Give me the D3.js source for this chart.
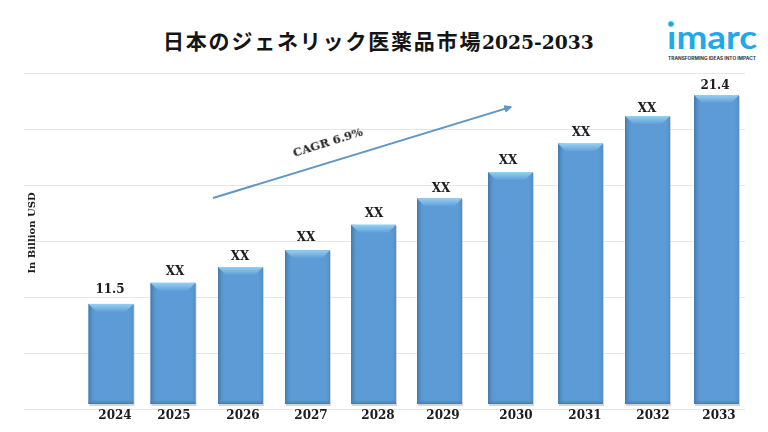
<!DOCTYPE html>
<html lang="ja">
<head>
<meta charset="UTF-8">
<title>日本のジェネリック医薬品市場</title>
<script src="https://d3js.org/d3.v7.min.js"></script>
<style>
  html, body { margin: 0; padding: 0; background: #fff; }
  svg { display: block; }
  .serif { font-family: "DejaVu Serif", serif; font-weight: 700; fill: #1a1a1a; }
</style>
</head>
<body>
<div id="vis"></div>
<script>
var years = ["2024","2025","2026","2027","2028","2029","2030","2031","2032","2033"];
var values = [11.5,12.5,13.25,14.05,15.25,16.5,17.75,19.1,20.4,21.4];
var valueLabels = ["11.5","XX","XX","XX","XX","XX","XX","XX","XX","21.4"];
var gridSteps = [0,1,2,3,4,5,6];

var width = 768, height = 432;

var svg = d3.select("#vis").append("svg")
    .attr("width", width)
    .attr("height", height);

var defs = svg.append("defs");

function gradient(id, x2, y2, stops) {
    var g = defs.append("linearGradient").attr("id", id)
        .attr("x1", 0).attr("y1", 0).attr("x2", x2).attr("y2", y2);
    stops.forEach(function(s) {
        g.append("stop").attr("offset", s[0]).attr("stop-color", s[1]).attr("stop-opacity", s[2]);
    });
}
gradient("capFill", 0, 1, [[0,"#93d0f3",1],[1,"#5f9fd8",1]]);
gradient("leftEdge", 1, 0, [[0,"#3f6f9c",0.85],[1,"#5b9bd5",0]]);
gradient("rightEdge", 1, 0, [[0,"#5b9bd5",0],[1,"#4f86b8",0.7]]);
gradient("bottomEdge", 0, 1, [[0,"#5b9bd5",0],[1,"#43719c",0.85]]);

defs.append("filter").attr("id", "soft")
    .append("feGaussianBlur").attr("stdDeviation", 0.35);
defs.append("filter").attr("id", "softText")
    .append("feGaussianBlur").attr("stdDeviation", 0.2);

// bars are not evenly spaced in the original, so the x scales are ordinal
var x = d3.scaleOrdinal().domain(years)
    .range([111,173,240.5,307.5,373.5,439.5,510.5,580.5,647.5,716.5]);
var xLabel = d3.scaleOrdinal().domain(years)
    .range([115,174,243,311,378,443,516,585,653,719]);
var xValue = d3.scaleOrdinal().domain(years)
    .range([110,175,240,306,374,441,508,581,647,715]);
// value labels float at slightly different heights above their bars
var labelGap = d3.scaleOrdinal().domain(years)
    .range([11,8,7,9,8,6,8,8,4,6]);
var barW = 45;

// the picture's bars don't start from zero
var y = d3.scaleLinear().domain([6.76,21.4]).range([404,95]);
var grid = d3.scaleLinear().domain([0,6]).range([409,73]);

var gridAxis = d3.axisLeft(grid).tickValues(gridSteps).tickSize(-721).tickFormat("");
var gridG = svg.append("g")
    .attr("transform", "translate(24,0)")
    .call(gridAxis);
gridG.select(".domain").remove();
gridG.selectAll("line").attr("stroke", "#e6e6e6").attr("stroke-width", 1);

var title = svg.append("text")
    .attr("x", 163).attr("y", 49)
    .attr("fill", "#151515");
title.append("tspan")
    .attr("font-family", '"Noto Sans CJK JP"')
    .attr("font-weight", 700)
    .attr("font-size", 21)
    .attr("letter-spacing", 1.8)
    .text("日本のジェネリック医薬品市場");
title.append("tspan")
    .attr("x", 482)
    .attr("font-family", '"DejaVu Serif"')
    .attr("font-weight", 700)
    .attr("font-size", 18.7)
    .text("2025-2033");

var bar = svg.selectAll(".bar").data(years).enter().append("g")
    .attr("class", "bar")
    .attr("filter", "url(#soft)")
    .attr("transform", function(d) { return "translate(" + (x(d) - barW / 2) + ",0)"; });

function barTop(i) { return y(values[i]); }

bar.append("rect")
    .attr("x", 1).attr("width", barW).attr("y", function(d, i) { return barTop(i) + 1; })
    .attr("height", function(d, i) { return y.range()[0] - barTop(i) + 1; })
    .attr("fill", "#b9b9b9").attr("opacity", 0.6);
bar.append("rect")
    .attr("width", barW).attr("y", function(d, i) { return barTop(i); })
    .attr("height", function(d, i) { return y.range()[0] - barTop(i); })
    .attr("fill", "#5b9bd5");
bar.append("rect")
    .attr("width", 7).attr("y", function(d, i) { return barTop(i); })
    .attr("height", function(d, i) { return y.range()[0] - barTop(i); })
    .attr("fill", "url(#leftEdge)");
bar.append("rect")
    .attr("x", barW - 5).attr("width", 5).attr("y", function(d, i) { return barTop(i); })
    .attr("height", function(d, i) { return y.range()[0] - barTop(i); })
    .attr("fill", "url(#rightEdge)");
bar.append("rect")
    .attr("width", barW).attr("y", y.range()[0] - 5).attr("height", 5)
    .attr("fill", "url(#bottomEdge)");
bar.append("path")
    .attr("d", function(d, i) {
        var t = barTop(i);
        return "M0," + t + "H" + barW + "L" + (barW - 8) + "," + (t + 8) + "H8Z";
    })
    .attr("fill", "url(#capFill)");

svg.selectAll(".year").data(years).enter().append("text")
    .attr("class", "year serif")
    .attr("filter", "url(#softText)")
    .attr("x", function(d) { return xLabel(d); })
    .attr("y", 419)
    .attr("text-anchor", "middle")
    .attr("font-size", 12)
    .text(function(d) { return d; });

svg.selectAll(".val").data(years).enter().append("text")
    .attr("class", "val serif")
    .attr("filter", "url(#softText)")
    .attr("x", function(d) { return xValue(d); })
    .attr("y", function(d, i) { return barTop(i) - labelGap(d); })
    .attr("text-anchor", "middle")
    .attr("font-size", 12)
    .text(function(d, i) { return valueLabels[i]; });

svg.append("text")
    .attr("class", "serif")
    .attr("filter", "url(#softText)")
    .attr("transform", "translate(35,233) rotate(-90)")
    .attr("text-anchor", "middle")
    .attr("font-size", 10)
    .text("In Billion USD");

// CAGR arrow
defs.append("marker").attr("id", "head")
    .attr("viewBox", "0 0 6 6").attr("refX", 5).attr("refY", 3)
    .attr("markerWidth", 4).attr("markerHeight", 4).attr("orient", "auto")
    .append("path").attr("d", "M0,0L6,3L0,6Z").attr("fill", "#5f97c6");

svg.append("line")
    .attr("x1", 213).attr("y1", 198).attr("x2", 511).attr("y2", 107)
    .attr("stroke", "#5f97c6").attr("stroke-width", 2)
    .attr("marker-end", "url(#head)");

svg.append("text")
    .attr("class", "serif")
    .attr("filter", "url(#softText)")
    .attr("transform", "translate(329,146) rotate(-17.5)")
    .attr("text-anchor", "middle")
    .attr("font-size", 11.5)
    .text("CAGR 6.9%");

// logo
var logo = svg.append("g");
logo.append("circle").attr("cx", 671).attr("cy", 24).attr("r", 2.8).attr("fill", "#1fa9ea");
logo.append("text")
    .attr("x", 667).attr("y", 49)
    .attr("font-family", "Lato")
    .attr("font-weight", 700)
    .attr("font-size", 32)
    .attr("textLength", 90)
    .attr("lengthAdjust", "spacingAndGlyphs")
    .attr("fill", "#1fa9ea")
    .text("ımarc");
logo.append("text")
    .attr("x", 668).attr("y", 60)
    .attr("font-family", "Inter")
    .attr("font-weight", 700)
    .attr("font-size", 4.6)
    .attr("textLength", 88)
    .attr("lengthAdjust", "spacingAndGlyphs")
    .attr("fill", "#2d3a44")
    .text("TRANSFORMING IDEAS INTO IMPACT");
</script>
</body>
</html>
